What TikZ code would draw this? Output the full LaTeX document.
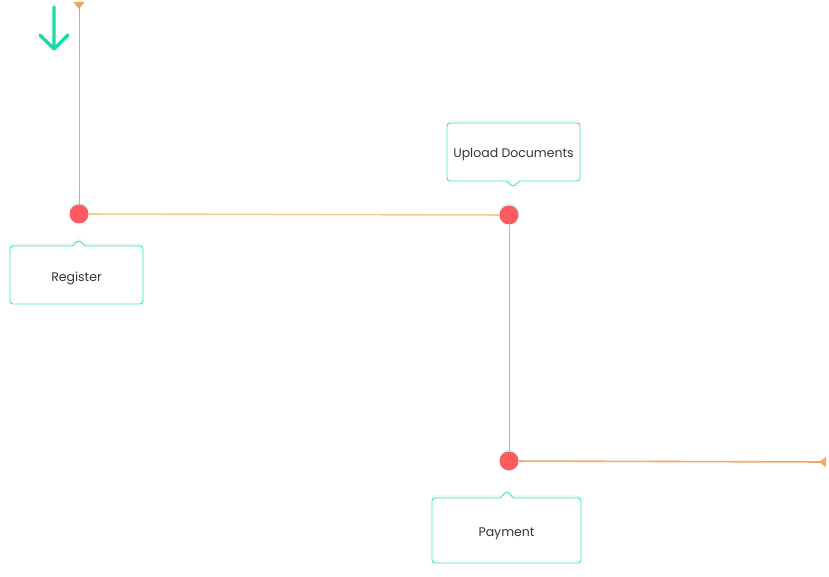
\documentclass[tikz,border=0pt]{standalone}
\usepackage{fontspec}
\setmainfont{Poppins}
\usetikzlibrary{arrows.meta}
\usetikzlibrary{positioning}
\usetikzlibrary{shapes.callouts}
\usetikzlibrary{shadows}
\definecolor{dotred}{HTML}{FF5A5F}
\definecolor{peach}{HTML}{FFC891}
\definecolor{lineorange}{HTML}{F2A35E}
\definecolor{boxteal}{HTML}{3EE3C3}
\definecolor{arrowgreen}{HTML}{1CDAA6}
\definecolor{textgray}{HTML}{33343E}
\tikzset{circ/.style = {fill = dotred, circle, inner sep = 0, minimum size = 19,
    drop shadow = {shadow xshift = 0, shadow yshift = -2, fill = boxteal, opacity = 0.25}}}
\tikzset{callbox/.style = {rectangle callout, draw = boxteal, fill = white, line width = 0.9,
    rounded corners = 3, callout pointer width = 13, text = textgray,
    minimum width = 133, minimum height = 58, text height = 12, text depth = 0,
    font = \fontsize{12.5}{15}\selectfont,
    drop shadow = {shadow xshift = 0, shadow yshift = -3, opacity = 0.08}}}
\tikzset{vline/.style = {draw = lineorange, line width = 0.9}}
\tikzset{hline/.style = {draw = peach, line width = 1.6}}

\begin{document}
\begin{tikzpicture}[x = 1pt, y = -1pt]
      \useasboundingbox (0, 0) rectangle (829, 577);
      % start arrow
      \draw [arrowgreen, line width = 3.2, line cap = round, line join = round]
        (54, 7) -- (54, 49) (40, 35) -- (54, 49) -- (68, 35);
      % steps
      \coordinate (top) at (79, 2);
      \coordinate (end) at (826, 462);
      \node [circ] (d1) at (79, 214) {};
      \node [circ] (d2) at (509, 215) {};
      \node [circ] (d3) at (509, 461) {};
      \draw [vline, {Triangle[reversed, width = 11, length = 7]}-] (top) -- (d1);
      \draw [hline] (d1) -- (d2);
      \draw [vline] (d2) -- (d3);
      \draw [hline, -{Triangle[reversed, width = 10, length = 7]}, lineorange!80!peach] (d3) -- (end);
      % labels
      \node [callbox, callout absolute pointer = {(79, 240)}] (reg) at (76.5, 275) {Register};
      \node [callbox, callout absolute pointer = {(513, 187)}] (upl) at (513.5, 152) {Upload Documents};
      \node [callbox, callout absolute pointer = {(507, 491)}, minimum width = 149, minimum height = 65]
        (pay) at (506.5, 530.5) {Payment};
    \end{tikzpicture}
\end{document}
